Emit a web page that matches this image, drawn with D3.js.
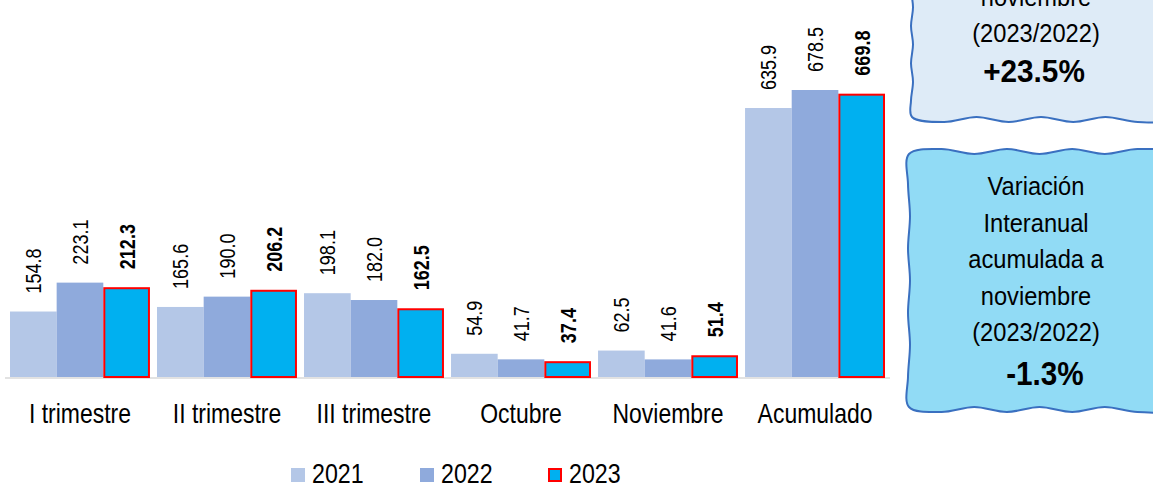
<!DOCTYPE html>
<html>
<head>
<meta charset="utf-8">
<script src="https://cdn.jsdelivr.net/npm/d3@7"></script>
<style>
  body { margin: 0; background: #fff; }
  svg { display: block; font-family: "Liberation Sans", Arial, sans-serif; }
</style>
</head>
<body>
<svg id="chart" width="1153" height="488"></svg>
<script>
// Data
const categories = ["I trimestre", "II trimestre", "III trimestre", "Octubre", "Noviembre", "Acumulado"];
const years = ["2021", "2022", "2023"];
const values2021 = [154.8, 165.6, 198.1, 54.9, 62.5, 635.9];
const values2022 = [223.1, 190.0, 182.0, 41.7, 41.6, 678.5];
const values2023 = [212.3, 206.2, 162.5, 37.4, 51.4, 669.8];
const boxTop = ["noviembre", "(2023/2022)"];
const boxTopValue = "+23.5%";
const boxBottom = ["Variación", "Interanual", "acumulada a", "noviembre", "(2023/2022)"];
const boxBottomValue = "-1.3%";

const colors = {"2021": "#b4c7e7", "2022": "#8faadc", "2023": "#00b0f0"};
const series = {"2021": values2021, "2022": values2022, "2023": values2023};

// narrow look: squeeze text horizontally
const narrow = 0.82;

const svg = d3.select("#chart");
const baseY = 377;

const x0 = d3.scaleBand()
    .domain(categories)
    .range([10, 885])
    .paddingInner(0.048)
    .paddingOuter(0);

const x1 = d3.scaleBand()
    .domain(years)
    .range([0, x0.bandwidth()]);

const y = d3.scaleLinear()
    .domain([0, 678.5])
    .range([baseY, 90]);

// Axis line
svg.append("line")
    .attr("x1", 5).attr("x2", 890)
    .attr("y1", baseY + 1).attr("y2", baseY + 1)
    .attr("stroke", "#d9d9d9")
    .attr("stroke-width", 1.5);

// Bars
const groups = svg.append("g")
    .selectAll("g")
    .data(categories)
    .enter().append("g")
    .attr("transform", d => `translate(${x0(d)},0)`);

groups.selectAll("rect")
    .data((c, i) => years.map(yr => ({year: yr, value: series[yr][i]})))
    .enter().append("rect")
    .attr("x", d => x1(d.year) + (d.year === "2023" ? 1 : 0))
    .attr("width", d => x1.bandwidth() - (d.year === "2023" ? 2 : 0))
    .attr("y", d => y(d.value) + (d.year === "2023" ? 1 : 0))
    .attr("height", d => y(0) - y(d.value) - (d.year === "2023" ? 1 : 0))
    .attr("fill", d => colors[d.year])
    .attr("stroke", d => d.year === "2023" ? "#ff0000" : "none")
    .attr("stroke-width", 2);

// Value labels (rotated)
groups.selectAll("text.val")
    .data((c, i) => years.map(yr => ({year: yr, value: series[yr][i]})))
    .enter().append("text")
    .attr("class", "val")
    .attr("transform", d => `translate(${x1(d.year) + x1.bandwidth() / 2 + 8},${y(d.value) - 18}) rotate(-90) scale(${narrow},1)`)
    .attr("text-anchor", "start")
    .style("font-size", "22px")
    .style("font-weight", d => d.year === "2023" ? "bold" : "normal")
    .attr("fill", "#000")
    .text(d => d.value.toFixed(1));

// Category labels
svg.append("g")
    .selectAll("text")
    .data(categories)
    .enter().append("text")
    .attr("transform", d => `translate(${x0(d) + x0.bandwidth() / 2},423) scale(${narrow},1)`)
    .attr("text-anchor", "middle")
    .style("font-size", "28px")
    .attr("fill", "#000")
    .text(d => d);

// Legend
const legendX = [291, 420, 548];
const legend = svg.append("g")
    .selectAll("g")
    .data(years)
    .enter().append("g")
    .attr("transform", (d, i) => `translate(${legendX[i]},468)`);

legend.append("rect")
    .attr("x", d => d === "2023" ? 1 : 0)
    .attr("y", d => d === "2023" ? 1 : 0)
    .attr("width", d => d === "2023" ? 12 : 14)
    .attr("height", d => d === "2023" ? 12 : 14)
    .attr("fill", d => colors[d])
    .attr("stroke", d => d === "2023" ? "#ff0000" : "none")
    .attr("stroke-width", 2);

legend.append("text")
    .attr("transform", `translate(21,15) scale(0.86,1)`)
    .style("font-size", "27px")
    .attr("fill", "#000")
    .text(d => d);

// Wavy boxes
function wavyBox(x, yTop, x2, yBottom) {
    const pts = [];
    const n = 8;
    for (let i = 0; i <= n; i++) pts.push([x + (x2 - x) * i / n, yTop + (i % 2 ? -3 : 2)]);
    for (let i = 1; i <= n; i++) pts.push([x2 + (i % 2 ? 2 : -1), yTop + (yBottom - yTop) * i / n]);
    for (let i = 1; i <= n; i++) pts.push([x2 - (x2 - x) * i / n, yBottom + (i % 2 ? 3 : -2)]);
    for (let i = 1; i < n; i++) pts.push([x + (i % 2 ? -1 : 1), yBottom - (yBottom - yTop) * i / n]);
    return d3.line().curve(d3.curveCatmullRomClosed)(pts);
}

svg.append("path")
    .attr("d", wavyBox(912, -30, 1170, 119))
    .attr("fill", "#deebf7")
    .attr("stroke", "#3a70c0")
    .attr("stroke-width", 2);

svg.append("path")
    .attr("d", wavyBox(909, 152, 1170, 409))
    .attr("fill", "#91dbf5")
    .attr("stroke", "#3a70c0")
    .attr("stroke-width", 2);

const boxCx = 1036;
const boxNarrow = 0.91;

svg.append("g")
    .selectAll("text")
    .data(boxTop)
    .enter().append("text")
    .attr("transform", (d, i) => `translate(${boxCx},${42 - (boxTop.length - 1 - i) * 36.5}) scale(${boxNarrow},1)`)
    .attr("text-anchor", "middle")
    .style("font-size", "26px")
    .attr("fill", "#000")
    .text(d => d);

svg.append("text")
    .attr("transform", `translate(${boxCx - 2},82) scale(0.93,1)`)
    .attr("text-anchor", "middle")
    .style("font-size", "32px")
    .style("font-weight", "bold")
    .attr("fill", "#000")
    .text(boxTopValue);

svg.append("g")
    .selectAll("text")
    .data(boxBottom)
    .enter().append("text")
    .attr("transform", (d, i) => `translate(${boxCx},${195 + i * 36.5}) scale(${boxNarrow},1)`)
    .attr("text-anchor", "middle")
    .style("font-size", "26px")
    .attr("fill", "#000")
    .text(d => d);

svg.append("text")
    .attr("transform", `translate(${boxCx + 9},385) scale(0.9,1)`)
    .attr("text-anchor", "middle")
    .style("font-size", "33px")
    .style("font-weight", "bold")
    .attr("fill", "#000")
    .text(boxBottomValue);
</script>
</body>
</html>
